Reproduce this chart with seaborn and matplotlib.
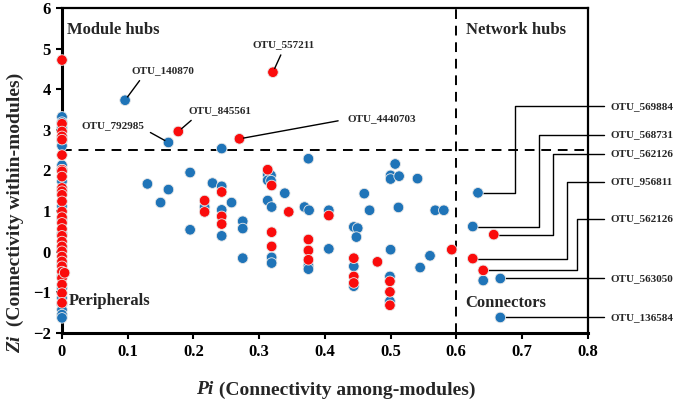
import pandas as pd
import numpy as np
import matplotlib.pyplot as plt
import seaborn as sns

# blue nodes (Pi, Zi)
blue_pi = [0, 0, 0, 0, 0, 0, 0, 0, 0, 0, 0, 0, 0, 0, 0, 0, 0, 0, 0, 0,
           0.096, 0.130, 0.150, 0.162, 0.162, 0.195, 0.195, 0.217, 0.229, 0.243,
           0.243, 0.243, 0.243, 0.258, 0.275, 0.275, 0.275, 0.313, 0.318, 0.313,
           0.318, 0.313, 0.319, 0.319, 0.319, 0.339, 0.375, 0.369, 0.376, 0.375,
           0.375, 0.406, 0.406, 0.460, 0.468, 0.444, 0.450, 0.448, 0.444, 0.444,
           0.500, 0.499, 0.499, 0.507, 0.500, 0.500, 0.513, 0.541, 0.512, 0.568,
           0.581, 0.560, 0.545, 0.633, 0.625, 0.641, 0.667, 0.667]
blue_zi = [3.32, 3.19, 3.05, 2.73, 2.61, 2.13, 2.02, 1.73, 1.12, 0.80, 0.45,
           0.10, -0.30, -0.60, -0.90, -1.14, -1.30, -1.43, -1.55, -1.63,
           3.73, 1.67, 1.21, 1.53, 2.69, 1.95, 0.54, 1.10, 1.69, 2.54,
           1.61, 1.03, 0.39, 1.21, 0.75, 0.57, -0.16, 1.90, 1.88, 1.76,
           1.75, 1.26, 1.10, -0.14, -0.28, 1.44, 2.29, 1.10, 1.02, -0.35,
           -0.43, 1.02, 0.07, 1.43, 1.02, 0.61, 0.58, 0.36, -0.36, -0.85,
           0.05, -0.61, -1.22, 2.16, 1.88, 1.79, 1.86, 1.80, 1.09, 1.02,
           1.02, -0.10, -0.39, 1.45, 0.62, -0.71, -0.66, -1.62]

# red nodes (Pi, Zi)
red_pi = [0, 0, 0, 0, 0, 0, 0, 0, 0, 0, 0, 0, 0, 0, 0, 0, 0, 0, 0, 0,
          0, 0, 0, 0, 0, 0, 0, 0, 0, 0.004,
          0.177, 0.270, 0.321, 0.243, 0.217, 0.217, 0.243, 0.243, 0.313, 0.319,
          0.345, 0.319, 0.319, 0.375, 0.375, 0.375, 0.406, 0.444, 0.444, 0.444,
          0.480, 0.499, 0.499, 0.499, 0.593, 0.657, 0.625, 0.641]
red_zi = [4.72, 3.15, 2.96, 2.84, 2.76, 2.38, 2.02, 1.98, 1.85, 1.57, 1.49,
          1.40, 1.24, 0.99, 0.85, 0.71, 0.56, 0.39, 0.25, 0.13, 0.01, -0.12,
          -0.24, -0.36, -0.49, -0.65, -0.81, -1.02, -1.26, -0.52,
          2.96, 2.78, 4.42, 1.47, 1.26, 0.98, 0.87, 0.68, 2.02, 1.63,
          0.98, 0.48, 0.13, 0.30, 0.03, -0.20, 0.89, -0.16, -0.61, -0.77,
          -0.25, -0.73, -0.99, -1.32, 0.05, 0.42, -0.17, -0.46]

# labelled nodes, upper left: name, point, text position
top_names = ['OTU_140870', 'OTU_557211', 'OTU_845561', 'OTU_792985', 'OTU_4440703']
top_pts = [(0.096, 3.73), (0.321, 4.42), (0.177, 2.96), (0.162, 2.69), (0.270, 2.78)]
top_txt = [(0.153, 4.46), (0.337, 5.10), (0.240, 3.47), (0.078, 3.10), (0.487, 3.28)]

# labelled nodes, right side: name, point, bend x, label y
right_names = ['OTU_569884', 'OTU_568731', 'OTU_562126', 'OTU_956811',
               'OTU_562126', 'OTU_563050', 'OTU_136584']
right_pts = [(0.633, 1.45), (0.625, 0.62), (0.657, 0.42), (0.625, -0.17),
             (0.641, -0.46), (0.667, -0.66), (0.667, -1.62)]
right_bend = [0.690, 0.726, 0.747, 0.768, 0.784, None, None]
right_lab_y = [3.58, 2.88, 2.41, 1.72, 0.81, -0.66, -1.62]

blue_col = '#1f74b8'
red_col = '#fa0c0c'

sns.set_style('white')
plt.rcParams['font.family'] = ['Liberation Serif', 'DejaVu Serif']
plt.rcParams['font.weight'] = 'bold'

df = pd.concat([
    pd.DataFrame({'Pi': blue_pi, 'Zi': blue_zi, 'grp': 'b'}),
    pd.DataFrame({'Pi': red_pi, 'Zi': red_zi, 'grp': 'r'}),
], ignore_index=True)

fig = plt.figure(figsize=(6.85, 4.04), dpi=100)
ax = fig.add_axes([0.0905, 0.176, 0.7675, 0.804])

sns.scatterplot(data=df, x='Pi', y='Zi', hue='grp', palette={'b': blue_col, 'r': red_col},
                s=58, edgecolor='#e8e8e8', linewidth=0.6, legend=False, ax=ax, zorder=3)
for c in ax.collections:
    c.set_clip_on(False)

ax.set_xlim(0, 0.8)
ax.set_ylim(-2, 6)
ax.set_xticks([0, 0.1, 0.2, 0.3, 0.4, 0.5, 0.6, 0.7, 0.8])
ax.set_xticklabels(['0', '0.1', '0.2', '0.3', '0.4', '0.5', '0.6', '0.7', '0.8'])
ax.set_yticks(range(-2, 7))
ax.tick_params(axis='both', labelsize=12, direction='out', length=4, width=1.5,
               colors='black', left=True, bottom=True, pad=4)
for sp in ax.spines.values():
    sp.set_color('black')
    sp.set_linewidth(1.6)
ax.spines['left'].set_linewidth(2.2)
ax.spines['bottom'].set_linewidth(2.2)
ax.set_xlabel('')
ax.set_ylabel('')

# thresholds
ax.axhline(2.5, color='black', lw=1.4, ls=(0, (5, 3.5)), zorder=2)
ax.axvline(0.6, color='black', lw=1.4, ls=(0, (5, 3.5)), zorder=2)

# role names
ax.text(0.008, 5.45, 'Module hubs', fontsize=12, fontweight='bold', va='center')
ax.text(0.615, 5.45, 'Network hubs', fontsize=12, fontweight='bold', va='center')
ax.text(0.011, -1.22, 'Peripherals', fontsize=12, fontweight='bold', va='center')
ax.text(0.614, -1.26, 'Connectors', fontsize=12, fontweight='bold', va='center')

# upper-left labels
rel = [(0.2, 0.0), (0.5, 0.0), (0.14, 0.0), (0.95, 0.3), (-0.1, 0.3)]
for name, pt, tx, rp in zip(top_names, top_pts, top_txt, rel):
    ax.annotate(name, xy=pt, xytext=tx, fontsize=8, fontweight='bold',
                ha='center', va='center', zorder=4,
                arrowprops=dict(arrowstyle='-', color='black', lw=1.0,
                                shrinkA=2, shrinkB=3, relpos=rp))

# right-side leaders
end_x = 0.824
for name, pt, bx, ly in zip(right_names, right_pts, right_bend, right_lab_y):
    if bx is None:
        xs = [pt[0], end_x]
        ys = [pt[1], pt[1]]
    else:
        xs = [pt[0], bx, bx, end_x]
        ys = [pt[1], pt[1], ly, ly]
    ax.plot(xs, ys, color='black', lw=1.0, clip_on=False, zorder=2)
    ax.text(end_x + 0.011, ly, name, fontsize=8, fontweight='bold',
            va='center', ha='left', clip_on=False)

# axis titles, italic part separate
fig.text(0.311, 0.035, 'Pi', fontsize=14, fontweight='bold', style='italic',
         ha='right', va='center')
fig.text(0.312, 0.035, ' (Connectivity among-modules)', fontsize=14,
         fontweight='bold', ha='left', va='center')
fig.text(0.022, 0.126, 'Zi', fontsize=14, fontweight='bold', style='italic',
         rotation=90, ha='center', va='bottom')
fig.text(0.022, 0.181, ' (Connectivity within-modules)', fontsize=14,
         fontweight='bold', rotation=90, ha='center', va='bottom')

plt.savefig('out.png', dpi=100)
